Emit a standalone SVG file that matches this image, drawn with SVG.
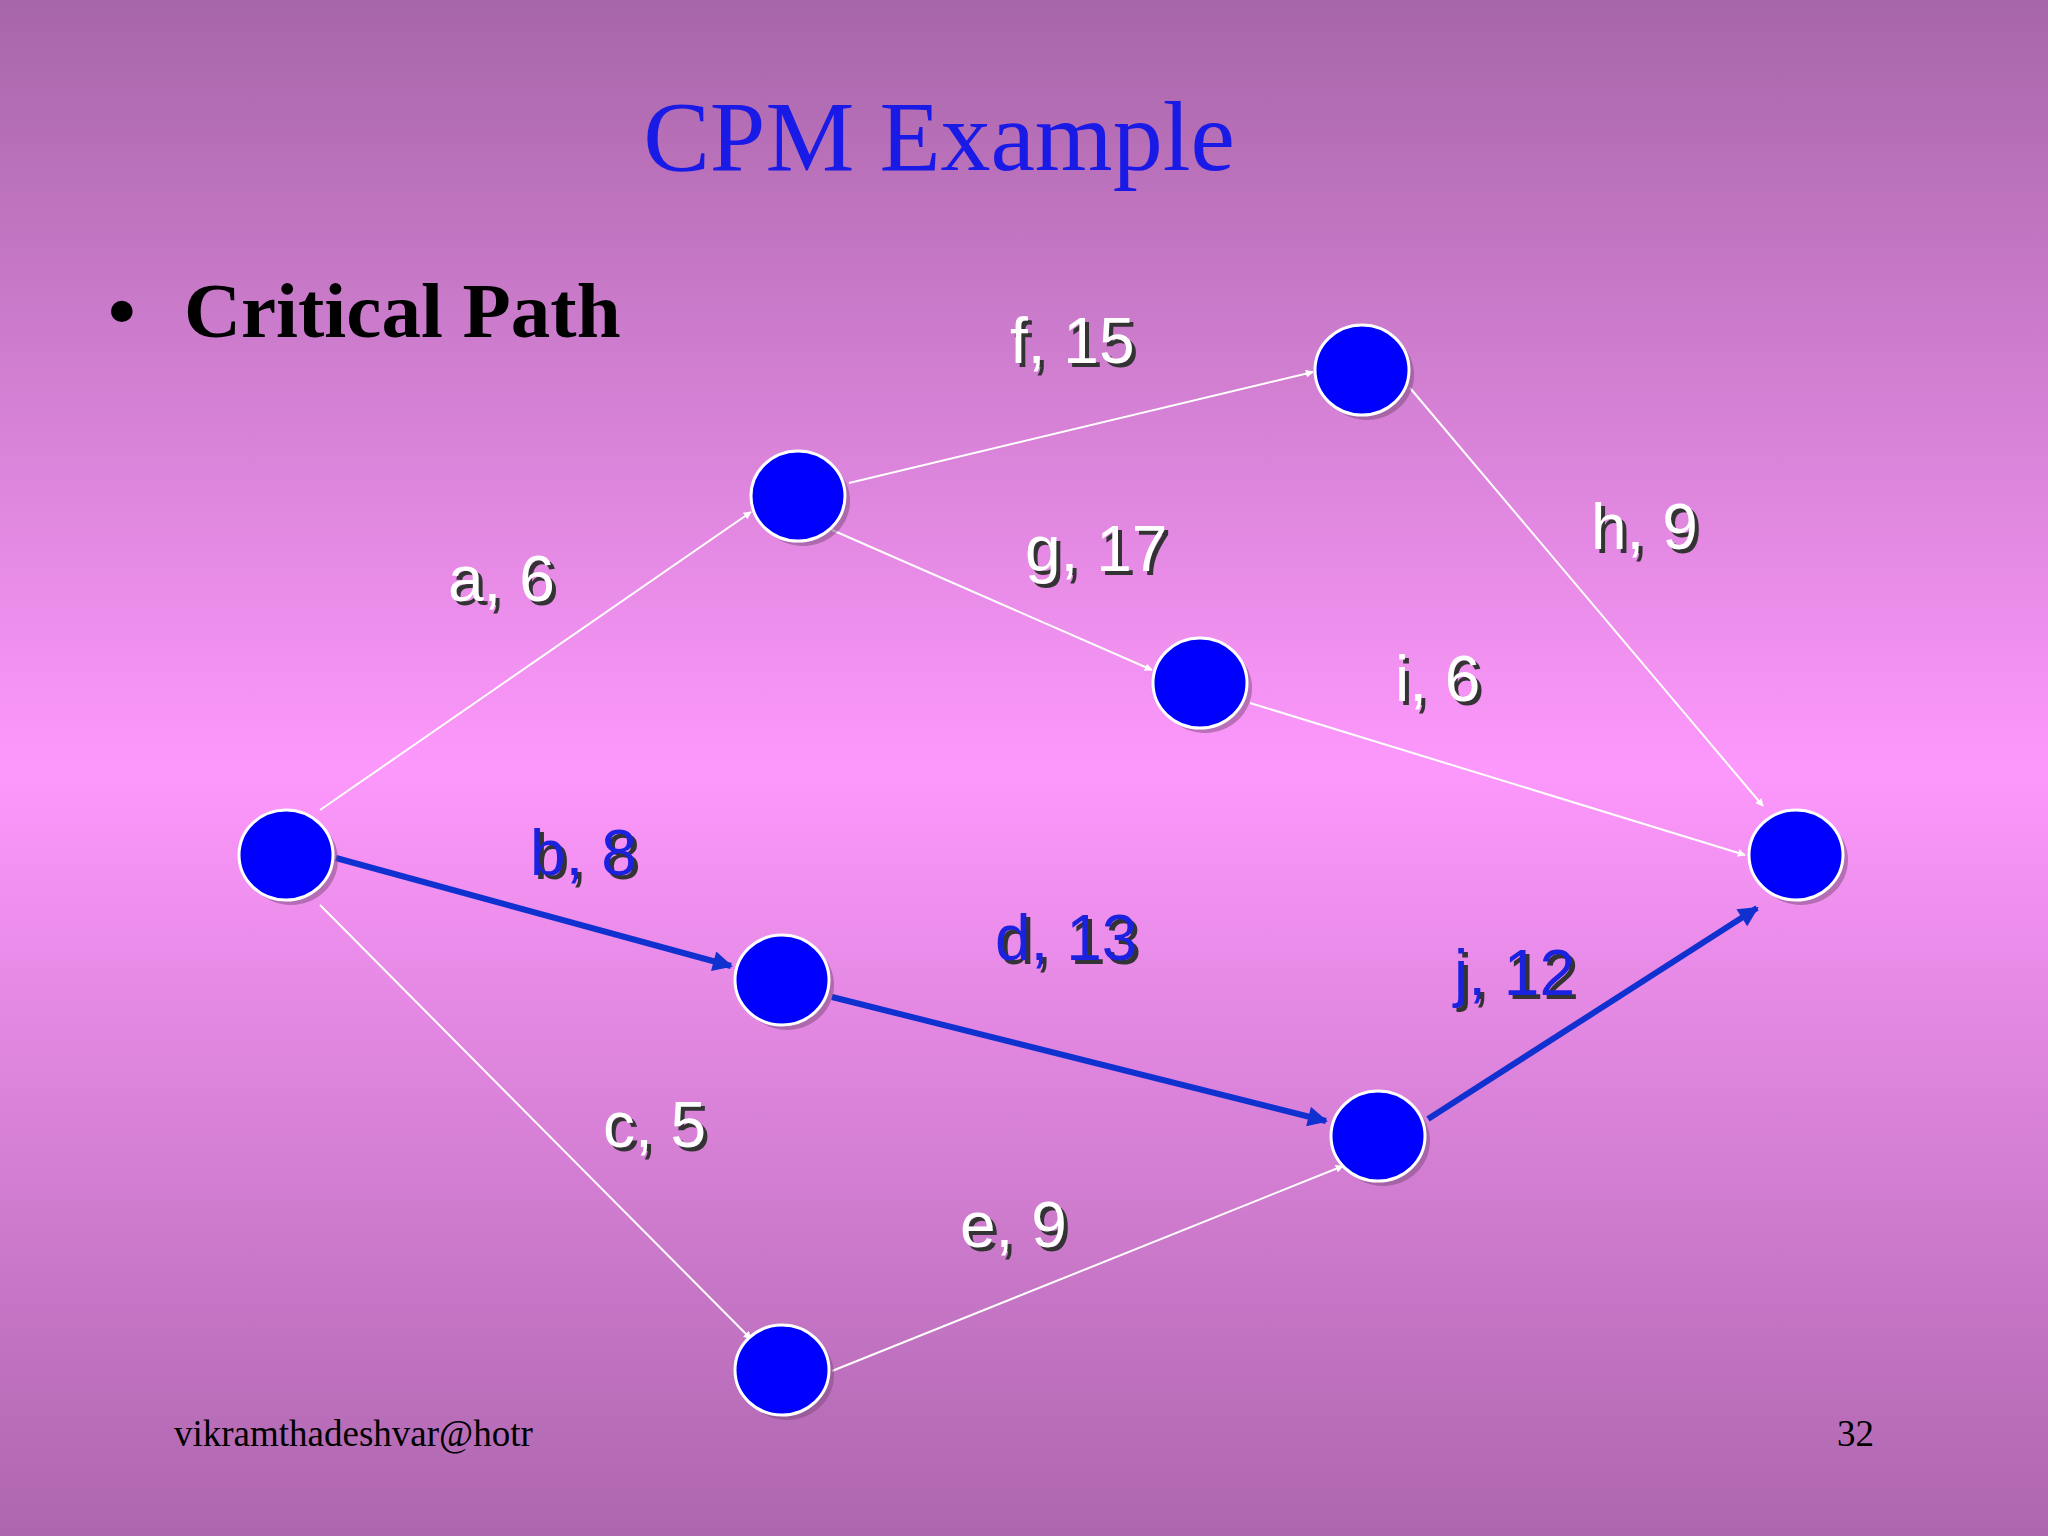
<svg xmlns="http://www.w3.org/2000/svg" width="2048" height="1536" viewBox="0 0 2048 1536">
<defs>
<linearGradient id="bg" x1="0" y1="0" x2="0" y2="1">
<stop offset="0" stop-color="#a766a8"/>
<stop offset="0.5" stop-color="#fd98fc"/>
<stop offset="1" stop-color="#ad66ad"/>
</linearGradient>
<marker id="aw" viewBox="0 0 10 10" refX="9" refY="5" markerWidth="8" markerHeight="8" orient="auto" markerUnits="userSpaceOnUse"><path d="M0,0 L10,5 L0,10 z" fill="#ffffff"/></marker>
<marker id="ab" viewBox="0 0 10 10" refX="9" refY="5" markerWidth="24" markerHeight="20" orient="auto" markerUnits="userSpaceOnUse"><path d="M0,0 L10,5 L0,10 z" fill="#1030d0"/></marker>
</defs>
<style>
.w{stroke:#ffffff;stroke-width:2;fill:none;marker-end:url(#aw)}
.b{stroke:#1030d0;stroke-width:6;fill:none;marker-end:url(#ab)}
.n{fill:#0000ff;stroke:#ffffff;stroke-width:3}
.ns{fill:#7a4a7a;opacity:0.5}
.lw{font-family:"Liberation Sans",Arial,sans-serif;font-size:64px;fill:#ffffff}
.lb{font-family:"Liberation Sans",Arial,sans-serif;font-size:64px;fill:#1a22e0}
.sh{font-family:"Liberation Sans",Arial,sans-serif;font-size:64px;fill:#333333}
.ft{font-family:"Liberation Serif","Times New Roman",serif;font-size:37px;fill:#000000}
</style>
<rect width="2048" height="1536" fill="url(#bg)"/>
<text x="939" y="170" text-anchor="middle" font-family="Liberation Serif,'Times New Roman',serif" font-size="100" fill="#1a1ae6">CPM Example</text>
<text x="108" y="337" font-family="Liberation Serif,'Times New Roman',serif" font-size="79" font-weight="bold" fill="#000">•</text>
<text x="184" y="337" font-family="Liberation Serif,'Times New Roman',serif" font-size="79" font-weight="bold" fill="#000">Critical Path</text>
<g id="connectors">
<line class="w" x1="320" y1="810" x2="751" y2="512"/>
<line class="w" x1="849" y1="483" x2="1313" y2="372"/>
<line class="w" x1="832" y1="530" x2="1152" y2="670"/>
<line class="w" x1="1410" y1="388" x2="1763" y2="806"/>
<line class="w" x1="1250" y1="703" x2="1745" y2="855"/>
<line class="b" x1="336" y1="858" x2="731" y2="966"/>
<line class="b" x1="832" y1="997" x2="1326" y2="1121"/>
<line class="b" x1="1428" y1="1119" x2="1757" y2="908"/>
<line class="w" x1="320" y1="905" x2="751" y2="1339"/>
<line class="w" x1="832" y1="1371" x2="1343" y2="1166"/>
</g>
<g id="n1"><ellipse class="ns" cx="291" cy="860" rx="47" ry="45"/><ellipse class="n" cx="286" cy="855" rx="47" ry="45"/></g>
<g id="n2"><ellipse class="ns" cx="803" cy="501" rx="47" ry="45"/><ellipse class="n" cx="798" cy="496" rx="47" ry="45"/></g>
<g id="n3"><ellipse class="ns" cx="1367" cy="375" rx="47" ry="45"/><ellipse class="n" cx="1362" cy="370" rx="47" ry="45"/></g>
<g id="n4"><ellipse class="ns" cx="1205" cy="688" rx="47" ry="45"/><ellipse class="n" cx="1200" cy="683" rx="47" ry="45"/></g>
<g id="n5"><ellipse class="ns" cx="1801" cy="860" rx="47" ry="45"/><ellipse class="n" cx="1796" cy="855" rx="47" ry="45"/></g>
<g id="n6"><ellipse class="ns" cx="787" cy="985" rx="47" ry="45"/><ellipse class="n" cx="782" cy="980" rx="47" ry="45"/></g>
<g id="n7"><ellipse class="ns" cx="1383" cy="1141" rx="47" ry="45"/><ellipse class="n" cx="1378" cy="1136" rx="47" ry="45"/></g>
<g id="n8"><ellipse class="ns" cx="787" cy="1375" rx="47" ry="45"/><ellipse class="n" cx="782" cy="1370" rx="47" ry="45"/></g>
<g id="labels">
<text class="sh" x="1014" y="367">f, 15</text><text class="lw" x="1010" y="363">f, 15</text>
<text class="sh" x="1029" y="575">g, 17</text><text class="lw" x="1025" y="571">g, 17</text>
<text class="sh" x="452" y="605">a, 6</text><text class="lw" x="448" y="601">a, 6</text>
<text class="sh" x="1595" y="553">h, 9</text><text class="lw" x="1591" y="549">h, 9</text>
<text class="sh" x="1399" y="705">i, 6</text><text class="lw" x="1395" y="701">i, 6</text>
<text class="sh" x="534" y="879">b, 8</text><text class="lb" x="530" y="875">b, 8</text>
<text class="sh" x="999" y="964">d, 13</text><text class="lb" x="995" y="960">d, 13</text>
<text class="sh" x="1458" y="999">j, 12</text><text class="lb" x="1454" y="995">j, 12</text>
<text class="sh" x="607" y="1151">c, 5</text><text class="lw" x="603" y="1147">c, 5</text>
<text class="sh" x="964" y="1251">e, 9</text><text class="lw" x="960" y="1247">e, 9</text>
</g>
<text class="ft" x="174" y="1446">vikramthadeshvar@hotr</text>
<text class="ft" x="1874" y="1446" text-anchor="end">32</text>
</svg>
